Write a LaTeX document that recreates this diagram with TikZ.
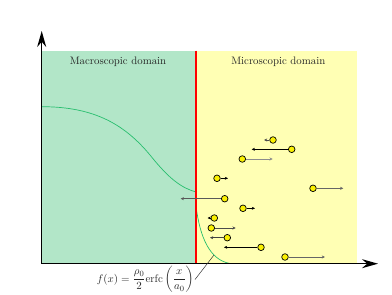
\documentclass[tikz,border=0pt]{standalone}
\usepackage{amsmath}
\usetikzlibrary{arrows.meta}
\definecolor{macro}{RGB}{178,230,200}
\definecolor{micro}{RGB}{255,255,180}
\definecolor{curve}{RGB}{40,190,110}
\definecolor{ball}{RGB}{250,240,0}
\tikzset{
  particle/.style={circle,draw=black,fill=ball,line width=0.7pt,inner sep=0pt,minimum size=6.6pt},
  vel/.style={-{Stealth[length=3.2pt,width=3pt]},line width=0.8pt},
  axis/.style={line width=1.3pt,-{Stealth[length=16pt,width=9pt]}},
  dlabel/.style={font=\fontsize{10.8}{13}\selectfont,text=black!85}
}
\begin{document}
\begin{tikzpicture}[x=1pt,y=-1pt]
\useasboundingbox (0,0) rectangle (392,295);
% domains
\fill[macro] (42,50.7) rectangle (196,263.7);
\fill[micro] (196,50.7) rectangle (356.7,263.7);
\node[dlabel] (macl) at (118,62) {Macroscopic domain};
\node[dlabel] (micl) at (278.3,62) {Microscopic domain};
% density curves
\draw[curve,line width=0.7pt] (42,106.7) .. controls (95,106.7) and (125,125) .. (150,155)
  .. controls (170,180) and (182,188) .. (196,192);
\draw[curve,line width=0.7pt] (196,206) .. controls (200,238) and (210,260) .. (230,263.5);
\coordinate (cpt) at (214,255);
% interface
\draw[red,line width=1.4pt] (196,50.7) -- (196,263.7);
% particles
\node[particle] (p1) at (273,140) {};
\coordinate (e1) at (264,140);
\node[particle] (p2) at (291.7,149.3) {};
\coordinate (e2) at (251.7,149.3);
\node[particle] (p3) at (242.3,159) {};
\coordinate (e3) at (272.7,159);
\node[particle] (p4) at (217,178.3) {};
\coordinate (e4) at (228,178.3);
\node[particle] (p5) at (313,188.3) {};
\coordinate (e5) at (343.3,188.3);
\node[particle] (p6) at (224.7,198.7) {};
\coordinate (e6) at (180.7,198.7);
\node[particle] (p7) at (243,208.3) {};
\coordinate (e7) at (255,208.3);
\node[particle] (p8) at (214.3,218) {};
\coordinate (e8) at (207.5,218);
\node[particle] (p9) at (211.3,228) {};
\coordinate (e9) at (235.7,228);
\node[particle] (p10) at (227.3,237.7) {};
\coordinate (e10) at (210,237.7);
\node[particle] (p11) at (261,247.3) {};
\coordinate (e11) at (224,247.3);
\node[particle] (p12) at (285,257) {};
\coordinate (e12) at (325,257);
\draw[vel,black!70] (p1) -- (e1);
\draw[vel,black] (p2) -- (e2);
\draw[vel,black!45] (p3) -- (e3);
\draw[vel,black] (p4) -- (e4);
\draw[vel,black!60] (p5) -- (e5);
\draw[vel,black!65] (p6) -- (e6);
\draw[vel,black] (p7) -- (e7);
\draw[vel,black] (p8) -- (e8);
\draw[vel,black!70] (p9) -- (e9);
\draw[vel,black!75] (p10) -- (e10);
\draw[vel,black] (p11) -- (e11);
\draw[vel,black!60] (p12) -- (e12);
% axes
\coordinate (o) at (41.7,263.7);
\coordinate (ytip) at (41.7,31);
\coordinate (xtip) at (378,263.7);
\draw[axis] (o) -- (ytip);
\draw[axis] (o) -- (xtip);
% formula
\node[dlabel,anchor=east,inner sep=1pt] (form) at (195,279.5)
  {$f(x)=\dfrac{\rho_0}{2}\mathrm{erfc}\left(\dfrac{x}{a_0}\right)$};
\draw[black!80,line width=0.5pt] (form.east) -- (cpt);
\end{tikzpicture}
\end{document}
